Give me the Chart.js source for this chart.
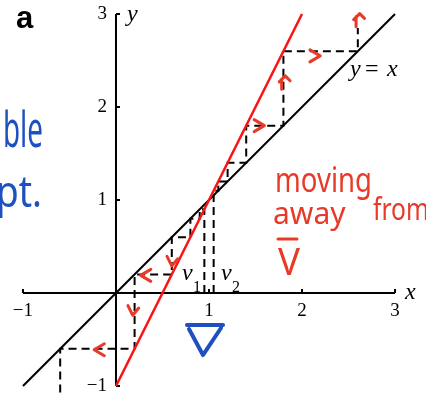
<!DOCTYPE html>
<html>
<head>
<meta charset="utf-8">
<script src="https://cdn.jsdelivr.net/npm/chart.js@4"></script>
<style>
  html, body { margin: 0; padding: 0; background: #fff; }
  #wrap { width: 426px; height: 393px; }
</style>
</head>
<body>
<div id="wrap"><canvas id="myChart"></canvas></div>
<script>
// the diagonal y = x
var diagX = [-1, 3];
var diagY = [-1, 3];
// the map v -> 2v - 1
var mapX = [0, 2];
var mapY = [-1, 3];
// cobweb starting at v2 (runs up and away)
var upX = [1.05, 1.05, 1.1, 1.1, 1.2, 1.2, 1.4, 1.4, 1.8, 1.8, 2.6, 2.6];
var upY = [0, 1.1, 1.1, 1.2, 1.2, 1.4, 1.4, 1.8, 1.8, 2.6, 2.6, 2.85];
// cobweb starting at v1 (runs down and away)
var downX = [0.95, 0.95, 0.9, 0.9, 0.8, 0.8, 0.6, 0.6, 0.2, 0.2, -0.6, -0.6];
var downY = [0, 0.9, 0.9, 0.8, 0.8, 0.6, 0.6, 0.2, 0.2, -0.6, -0.6, -1.3];
// axis ticks
var xTicks = [-1, 1, 2, 3];
var xTickLabels = ['\u22121', '1', '2', '3'];
var yTicks = [-1, 1, 2, 3];
var yTickLabels = ['\u22121', '1', '2', '3'];

function pts(xs, ys) {
  return xs.map(function (x, i) { return { x: x, y: ys[i] }; });
}

var RED_INK = 'rgb(232,58,40)';
var BLUE_INK = 'rgb(30,80,192)';
var SERIF = '"Liberation Serif", "Times New Roman", serif';
var HAND = '"Noto Sans", sans-serif';

// handwritten notes, positioned in data units
var notes = [
  { text: 'ble', x: -1.215, y: 1.57, font: '50px ' + HAND, color: BLUE_INK, maxW: 40 },
  { text: 'pt.', x: -1.29, y: 0.925, font: '44px ' + HAND, color: BLUE_INK, maxW: 46 },
  { text: 'moving', x: 1.71, y: 1.086, font: '34px ' + HAND, color: RED_INK, maxW: 97 },
  { text: 'away', x: 1.688, y: 0.742, font: '30px ' + HAND, color: RED_INK, maxW: 84 },
  { text: 'from', x: 2.763, y: 0.785, font: '31px ' + HAND, color: RED_INK, maxW: 56 },
  { text: 'V', x: 1.742, y: 0.194, font: '38px ' + HAND, color: RED_INK, maxW: 22 }
];
// little arrows along the cobweb
var arrows = [
  { x: 2.15, y: 2.55, dir: 'right' },
  { x: 2.62, y: 2.94, dir: 'up' },
  { x: 1.82, y: 2.27, dir: 'up' },
  { x: 1.55, y: 1.80, dir: 'right' },
  { x: 0.31, y: 0.19, dir: 'left' },
  { x: 0.60, y: 0.33, dir: 'down' },
  { x: 0.18, y: -0.20, dir: 'down' },
  { x: -0.19, y: -0.61, dir: 'left' }
];

var overlay = {
  id: 'overlay',
  beforeDatasetsDraw: function (chart) {
    var c = chart.ctx, sx = chart.scales.x, sy = chart.scales.y;
    var px = function (v) { return sx.getPixelForValue(v); };
    var py = function (v) { return sy.getPixelForValue(v); };
    c.save();
    c.strokeStyle = '#000';
    c.lineWidth = 2;
    c.beginPath();
    c.moveTo(px(-1), py(0)); c.lineTo(px(3), py(0));
    c.moveTo(px(0), py(-1)); c.lineTo(px(0), py(3));
    xTicks.forEach(function (t) { c.moveTo(px(t), py(0)); c.lineTo(px(t), py(0) - 4); });
    yTicks.forEach(function (t) { c.moveTo(px(0), py(t)); c.lineTo(px(0) + 4, py(t)); });
    c.stroke();

    c.fillStyle = '#000';
    c.font = '19px ' + SERIF;
    c.textAlign = 'center';
    c.textBaseline = 'top';
    xTicks.forEach(function (t, i) { c.fillText(xTickLabels[i], px(t), py(0) + 8); });
    c.textAlign = 'right';
    c.textBaseline = 'middle';
    yTicks.forEach(function (t, i) { c.fillText(yTickLabels[i], px(0) - 9, py(t)); });
    c.restore();
  },
  afterDatasetsDraw: function (chart) {
    var c = chart.ctx, sx = chart.scales.x, sy = chart.scales.y;
    var px = function (v) { return sx.getPixelForValue(v); };
    var py = function (v) { return sy.getPixelForValue(v); };
    c.save();
    c.textAlign = 'left';
    c.textBaseline = 'alphabetic';
    c.fillStyle = '#000';

    c.font = 'bold 31px "Liberation Sans", Arial, sans-serif';
    c.fillText('a', px(-1.075), py(2.85));

    c.font = 'italic 24px ' + SERIF;
    c.fillText('y', px(0.118), py(2.93));
    c.fillText('x', px(3.108), py(-0.065));

    // y = x label
    var lx = px(2.516), ly = py(2.333);
    c.fillText('y', lx, ly);
    c.font = '24px ' + SERIF;
    c.fillText('=', lx + 15, ly);
    c.font = 'italic 24px ' + SERIF;
    c.fillText('x', lx + 37, ly);

    // v1, v2
    [[0.71, '1'], [1.13, '2']].forEach(function (v) {
      c.font = 'italic 24px ' + SERIF;
      c.fillText('v', px(v[0]), py(0.14));
      c.font = '16px ' + SERIF;
      c.fillText(v[1], px(v[0]) + 11, py(0.0) - 1);
    });

    // ink notes
    notes.forEach(function (n) {
      c.font = n.font;
      c.fillStyle = n.color;
      c.fillText(n.text, px(n.x), py(n.y), n.maxW);
    });

    c.lineCap = 'round';
    c.lineJoin = 'round';
    // bar over the red V
    c.strokeStyle = RED_INK;
    c.lineWidth = 3;
    c.beginPath();
    c.moveTo(px(1.742), py(0.581)); c.lineTo(px(1.946), py(0.581));
    c.stroke();

    // blue nabla under the axis
    c.strokeStyle = BLUE_INK;
    c.lineWidth = 4;
    c.beginPath();
    c.moveTo(px(0.763), py(-0.344)); c.lineTo(px(1.151), py(-0.344));
    c.moveTo(px(0.785), py(-0.387)); c.lineTo(px(0.935), py(-0.667)); c.lineTo(px(1.129), py(-0.376));
    c.stroke();

    // arrows
    c.strokeStyle = RED_INK;
    c.lineWidth = 3;
    arrows.forEach(function (a) {
      var cx = px(a.x), cy = py(a.y), s = 6;
      c.beginPath();
      if (a.dir === 'right') {
        c.moveTo(cx - s, cy - s); c.lineTo(cx + s * 0.7, cy); c.lineTo(cx - s, cy + s);
      } else if (a.dir === 'left') {
        c.moveTo(cx + s, cy - s); c.lineTo(cx - s * 0.7, cy); c.lineTo(cx + s, cy + s);
      } else if (a.dir === 'up') {
        c.moveTo(cx - s, cy); c.lineTo(cx, cy - s); c.lineTo(cx + s * 0.8, cy - s * 0.2);
        c.moveTo(cx - s * 0.6, cy - s * 0.5); c.lineTo(cx - s * 0.6, cy + s * 1.2);
      } else {
        c.moveTo(cx - s * 0.8, cy - s); c.lineTo(cx, cy + s * 0.6); c.lineTo(cx + s, cy - s * 0.6);
      }
      c.stroke();
    });
    c.restore();
  }
};

var dashed = { borderColor: '#000', borderWidth: 2, borderDash: [8, 5], showLine: true, pointRadius: 0, fill: false };

var ctx = document.getElementById('myChart').getContext('2d');
var chart = new Chart(ctx, {
  type: 'scatter',
  data: {
    datasets: [
      { label: '2v - 1', data: pts(mapX, mapY), borderColor: 'rgb(250,20,20)', borderWidth: 2.5, showLine: true, pointRadius: 0 },
      { label: 'y = x', data: pts(diagX, diagY), borderColor: '#000', borderWidth: 2, showLine: true, pointRadius: 0 },
      Object.assign({ label: 'v2 cobweb', data: pts(upX, upY) }, dashed),
      Object.assign({ label: 'v1 cobweb', data: pts(downX, downY) }, dashed)
    ]
  },
  plugins: [overlay],
  options: {
    responsive: true,
    maintainAspectRatio: false,
    animation: false,
    events: [],
    layout: { padding: 0 },
    plugins: { legend: { display: false }, tooltip: { enabled: false } },
    scales: {
      x: { type: 'linear', display: false, min: -1.247, max: 3.333 },
      y: { type: 'linear', display: false, min: -1.075, max: 3.151 }
    }
  }
});
</script>
</body>
</html>
